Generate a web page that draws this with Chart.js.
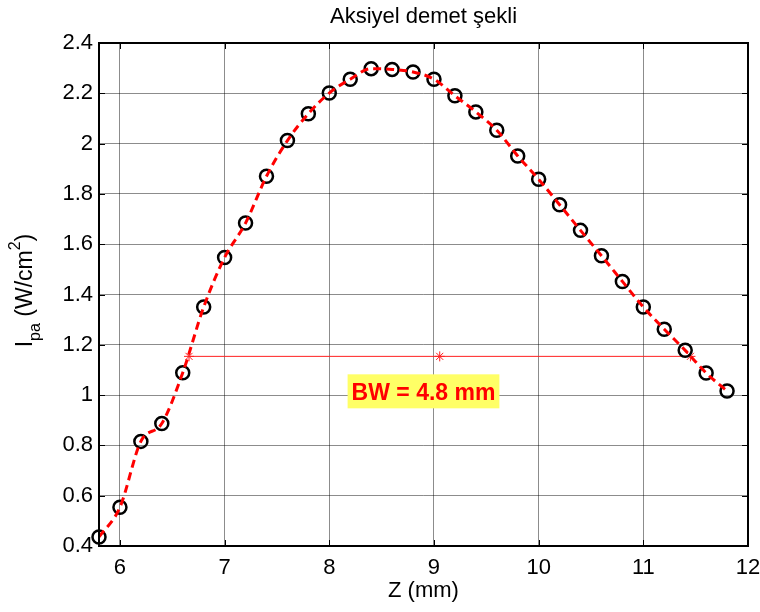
<!DOCTYPE html>
<html>
<head>
<meta charset="utf-8">
<title>Aksiyel demet şekli</title>
<script src="https://cdn.jsdelivr.net/npm/chart.js@4.4.0/dist/chart.umd.min.js"></script>
<style>
    html, body { margin: 0; padding: 0; background: #fff; }
    #wrap { width: 760px; height: 612px; }
</style>
</head>
<body>
<div id="wrap"><canvas id="beamChart" width="760" height="612"></canvas></div>
<script>
// Axial beam profile: measured points and the -6 dB beam width
const zValues = [5.8, 6.0, 6.2, 6.4, 6.6, 6.8, 7.0, 7.2, 7.4, 7.6, 7.8, 8.0, 8.2, 8.4, 8.6, 8.8,
    9.0, 9.2, 9.4, 9.6, 9.8, 10.0, 10.2, 10.4, 10.6, 10.8, 11.0, 11.2, 11.4, 11.6, 11.8];
const intensity = [0.436, 0.554, 0.816, 0.887, 1.089, 1.350, 1.547, 1.684, 1.870, 2.012, 2.119, 2.201, 2.256, 2.298, 2.295, 2.285,
    2.256, 2.190, 2.126, 2.053, 1.951, 1.858, 1.757, 1.655, 1.554, 1.452, 1.350, 1.262, 1.178, 1.088, 1.016];

// Beam width markers (left edge, centre, right edge) at the half level
const bwZ = [6.66, 9.055, 11.45];
const bwLevel = [1.154, 1.154, 1.154];
const bwText = 'BW = 4.8 mm';

// Axis ticks
const xTicks = [6, 7, 8, 9, 10, 11, 12];
const xTickLabels = ['6', '7', '8', '9', '10', '11', '12'];
const yTicks = [0.4, 0.6, 0.8, 1.0, 1.2, 1.4, 1.6, 1.8, 2.0, 2.2, 2.4];
const yTickLabels = ['0.4', '0.6', '0.8', '1', '1.2', '1.4', '1.6', '1.8', '2', '2.2', '2.4'];

const FONT = "'Liberation Sans', Arial, Helvetica, sans-serif";

const points = zValues.map((z, i) => ({ x: z, y: intensity[i] }));
const bwPoints = bwZ.map((z, i) => ({ x: z, y: bwLevel[i] }));

// Frame, inward ticks, title, axis labels and the BW annotation
const beamDecor = {
    id: 'beamDecor',
    afterDraw(chart) {
        const { ctx, chartArea: a, scales: { x, y } } = chart;
        ctx.save();

        // inward tick marks on all four sides
        ctx.strokeStyle = '#000';
        ctx.lineWidth = 1;
        ctx.beginPath();
        xTicks.forEach(v => {
            const px = Math.round(x.getPixelForValue(v)) + 0.5;
            ctx.moveTo(px, a.bottom); ctx.lineTo(px, a.bottom - 6);
            ctx.moveTo(px, a.top); ctx.lineTo(px, a.top + 6);
        });
        yTicks.forEach(v => {
            const py = Math.round(y.getPixelForValue(v)) + 0.5;
            ctx.moveTo(a.left, py); ctx.lineTo(a.left + 6, py);
            ctx.moveTo(a.right, py); ctx.lineTo(a.right - 6, py);
        });
        ctx.stroke();

        // axes box
        ctx.lineWidth = 2;
        ctx.strokeRect(a.left, a.top, a.right - a.left, a.bottom - a.top);

        // title
        const cx = (a.left + a.right) / 2;
        ctx.fillStyle = '#000';
        ctx.textAlign = 'center';
        ctx.textBaseline = 'alphabetic';
        ctx.font = '22px ' + FONT;
        ctx.fillText('Aksiyel demet şekli', cx, 23);

        // x axis label
        ctx.fillText('Z (mm)', cx, 597);

        // y axis label with sub/superscript: I_pa (W/cm^2)
        const parts = [
            { t: 'I', size: 23, dy: 0 },
            { t: 'pa', size: 16, dy: 7.5 },
            { t: ' (W/cm', size: 23, dy: 0 },
            { t: '2', size: 16, dy: -12 },
            { t: ')', size: 23, dy: 0 }
        ];
        let total = 0;
        parts.forEach(p => {
            ctx.font = p.size + 'px ' + FONT;
            p.w = ctx.measureText(p.t).width;
            total += p.w;
        });
        const cy = (a.top + a.bottom) / 2 - 4;
        ctx.translate(32, cy);
        ctx.rotate(-Math.PI / 2);
        ctx.textAlign = 'left';
        let tx = -total / 2;
        parts.forEach(p => {
            ctx.font = p.size + 'px ' + FONT;
            ctx.fillText(p.t, tx, p.dy);
            tx += p.w;
        });
        ctx.setTransform(1, 0, 0, 1, 0, 0);

        // BW annotation box
        ctx.font = 'bold 23px ' + FONT;
        const tw = ctx.measureText(bwText).width;
        const bx = x.getPixelForValue(8.9);
        const by = y.getPixelForValue(1.015);
        ctx.fillStyle = '#ffff66';
        ctx.fillRect(bx - tw / 2 - 4, by - 17, tw + 8, 34);
        ctx.fillStyle = '#ff0000';
        ctx.textAlign = 'center';
        ctx.fillText(bwText, bx, by + 9);

        ctx.restore();
    }
};

const ctx = document.getElementById('beamChart');
const chart = new Chart(ctx, {
    type: 'line',
    data: {
        datasets: [
            {
                // interpolated profile curve
                data: points,
                borderColor: '#ff0000',
                borderWidth: 3,
                borderDash: [8, 5],
                cubicInterpolationMode: 'monotone',
                pointRadius: 0,
                fill: false,
                order: 0
            },
            {
                // measured points
                data: points,
                showLine: false,
                pointStyle: 'circle',
                pointRadius: 6.5,
                pointBorderWidth: 2.5,
                pointBorderColor: '#000',
                pointBackgroundColor: 'rgba(0,0,0,0)',
                clip: false,
                order: 1
            },
            {
                // beam width line
                data: bwPoints,
                borderColor: '#ff2020',
                borderWidth: 1,
                tension: 0,
                pointStyle: 'star',
                pointRadius: 5,
                pointBorderWidth: 1,
                pointBorderColor: '#ff2020',
                pointBackgroundColor: '#ff2020',
                order: 2
            }
        ]
    },
    options: {
        responsive: false,
        animation: false,
        devicePixelRatio: 1,
        layout: { padding: { top: 43, right: 12, left: 0, bottom: 0 } },
        plugins: {
            legend: { display: false },
            title: { display: false },
            tooltip: { enabled: false }
        },
        scales: {
            x: {
                type: 'linear',
                min: 5.8,
                max: 12,
                afterBuildTicks: s => { s.ticks = xTicks.map(v => ({ value: v })); },
                afterFit: s => { s.height = 66; s.paddingLeft = 0; s.paddingRight = 0; },
                border: { display: false },
                grid: { color: 'rgba(0,0,0,0.45)', lineWidth: 1, drawTicks: false },
                ticks: {
                    padding: 9,
                    color: '#000',
                    font: { family: FONT, size: 22 },
                    callback: (v) => xTickLabels[xTicks.indexOf(v)]
                }
            },
            y: {
                type: 'linear',
                min: 0.4,
                max: 2.4,
                afterBuildTicks: s => { s.ticks = yTicks.map(v => ({ value: v })); },
                afterFit: s => { s.width = 99; s.paddingTop = 0; s.paddingBottom = 0; },
                border: { display: false },
                grid: { color: 'rgba(0,0,0,0.45)', lineWidth: 1, drawTicks: false },
                ticks: {
                    padding: 6,
                    color: '#000',
                    font: { family: FONT, size: 22 },
                    callback: (v) => {
                        const i = yTicks.findIndex(t => Math.abs(t - v) < 1e-9);
                        return i >= 0 ? yTickLabels[i] : '';
                    }
                }
            }
        }
    },
    plugins: [beamDecor]
});
</script>
</body>
</html>
